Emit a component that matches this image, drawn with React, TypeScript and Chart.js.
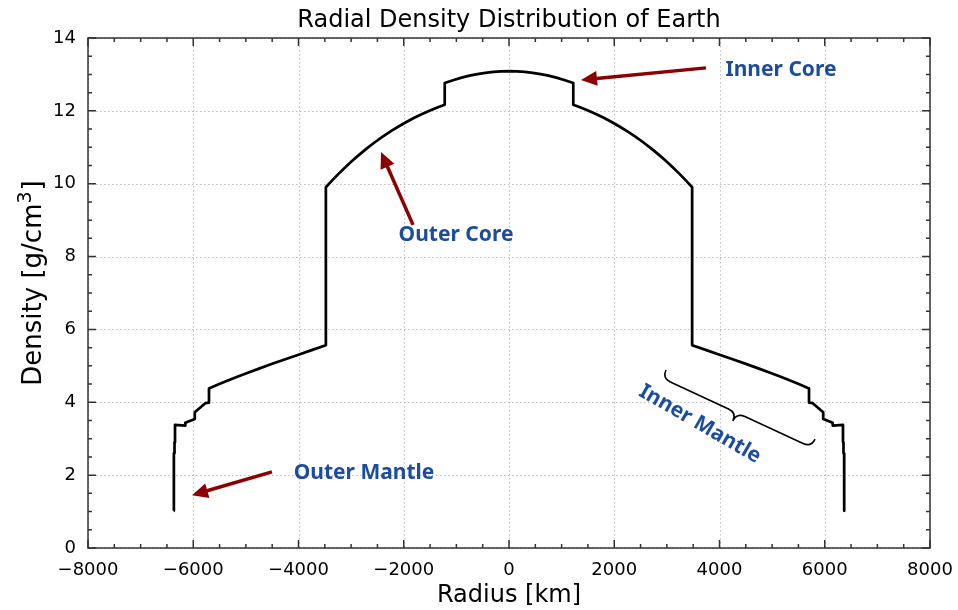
import React, { useEffect, useRef } from "react";
import { Chart, registerables } from "chart.js";

Chart.register(...registerables);

// PREM-like density profile, read for radius >= 0 (mirrored for the plot)
const radiusKm = [
  0, 150, 300, 450, 600, 750, 900, 1050, 1221.5, 1221.5,
  1350, 1500, 1650, 1800, 1950, 2100, 2250, 2400, 2550, 2700, 2850, 3000,
  3120, 3240, 3360, 3480, 3480,
  3750, 4000, 4250, 4500, 4750, 5000, 5200, 5400, 5550, 5701, 5701,
  5771, 5971, 5971, 6151, 6151, 6346.6, 6346.6, 6356, 6356, 6368, 6368, 6371,
];
const densityGcm3 = [
  13.089, 13.084, 13.069, 13.044, 13.01, 12.966, 12.912, 12.848, 12.764, 12.166,
  12.098, 12.01, 11.914, 11.809, 11.695, 11.571, 11.437, 11.293, 11.138, 10.971, 10.792, 10.602,
  10.44, 10.27, 10.091, 9.903, 5.567,
  5.432, 5.307, 5.179, 5.055, 4.924, 4.79, 4.679, 4.563, 4.474, 4.381, 3.992,
  3.976, 3.724, 3.543, 3.436, 3.36, 3.381, 2.9, 2.9, 2.6, 2.6, 1.02, 1.02,
];

const xMajorTicks = [-8000, -6000, -4000, -2000, 0, 2000, 4000, 6000, 8000];
const yMajorTicks = [0, 2, 4, 6, 8, 10, 12, 14];
const xMinorStep = 500;
const yMinorStep = 0.5;

const chartTitle = "Radial Density Distribution of Earth";
const xTitle = "Radius [km]";
const yTitleMain = "Density [g/cm";
const yTitleSup = "3";
const yTitleEnd = "]";

const labelTexts = ["Inner Core", "Outer Core", "Outer Mantle", "Inner Mantle"];
const labelX = [5169, -1007, -2755, 3629];
const labelY = [13.12, 8.59, 2.06, 3.4];
const labelAngleDeg = [0, 0, 0, 30];

const arrowFromX = [3743, -1824, -4504];
const arrowFromY = [13.18, 8.87, 2.09];
const arrowToX = [1368, -2432, -6024];
const arrowToY = [12.85, 10.87, 1.45];

const braceStart = [2983, 4.886];
const braceEnd = [5815, 2.99];

const FONT = "'DejaVu Sans', sans-serif";
const LABEL_FONT = "'Noto Sans', 'Open Sans', sans-serif";
const LABEL_BLUE = "#1c4c9f";
const ARROW_RED = "#8b0000";
const FRAME = "#333333";

function fmt(v: number): string {
  return v < 0 ? "\u2212" + Math.abs(v) : String(v);
}

const decorPlugin = {
  id: "decor",
  beforeDatasetsDraw(chart: any) {
    const { ctx, chartArea: a, scales } = chart;
    const x = scales.x;
    const y = scales.y;
    ctx.save();
    ctx.strokeStyle = "#bdbdbd";
    ctx.lineWidth = 1;
    ctx.setLineDash([1.5, 2.5]);
    for (const v of xMajorTicks) {
      const px = Math.round(x.getPixelForValue(v)) + 0.5;
      ctx.beginPath();
      ctx.moveTo(px, a.top);
      ctx.lineTo(px, a.bottom);
      ctx.stroke();
    }
    for (const v of yMajorTicks) {
      const py = Math.round(y.getPixelForValue(v)) + 0.5;
      ctx.beginPath();
      ctx.moveTo(a.left, py);
      ctx.lineTo(a.right, py);
      ctx.stroke();
    }
    ctx.restore();
  },
  afterDatasetsDraw(chart: any) {
    const { ctx, chartArea: a, scales } = chart;
    const x = scales.x;
    const y = scales.y;
    ctx.save();
    ctx.strokeStyle = FRAME;
    ctx.lineWidth = 1.5;
    ctx.setLineDash([]);
    ctx.strokeRect(a.left, a.top, a.right - a.left, a.bottom - a.top);
    const major = 8;
    const minor = 4;
    const xmin = xMajorTicks[0];
    const xmax = xMajorTicks[xMajorTicks.length - 1];
    for (let v = xmin; v <= xmax + 1e-6; v += xMinorStep) {
      const isMajor = xMajorTicks.includes(v);
      const len = isMajor ? major : minor;
      const px = x.getPixelForValue(v);
      ctx.beginPath();
      ctx.moveTo(px, a.bottom);
      ctx.lineTo(px, a.bottom - len);
      ctx.moveTo(px, a.top);
      ctx.lineTo(px, a.top + len);
      ctx.stroke();
    }
    const ymin = yMajorTicks[0];
    const ymax = yMajorTicks[yMajorTicks.length - 1];
    for (let v = ymin; v <= ymax + 1e-6; v += yMinorStep) {
      const isMajor = yMajorTicks.includes(v);
      const len = isMajor ? major : minor;
      const py = y.getPixelForValue(v);
      ctx.beginPath();
      ctx.moveTo(a.left, py);
      ctx.lineTo(a.left + len, py);
      ctx.moveTo(a.right, py);
      ctx.lineTo(a.right - len, py);
      ctx.stroke();
    }
    ctx.restore();
  },
  afterDraw(chart: any) {
    const { ctx, chartArea: a, scales } = chart;
    const x = scales.x;
    const y = scales.y;
    ctx.save();
    // title
    ctx.fillStyle = "#000";
    ctx.font = `24px ${FONT}`;
    ctx.textAlign = "center";
    ctx.textBaseline = "alphabetic";
    ctx.fillText(chartTitle, (a.left + a.right) / 2, 27);

    // y axis title with superscript
    {
      const mainFont = `26px ${FONT}`;
      const supFont = `19px ${FONT}`;
      ctx.font = mainFont;
      const w1 = ctx.measureText(yTitleMain).width;
      const w3 = ctx.measureText(yTitleEnd).width;
      ctx.font = supFont;
      const w2 = ctx.measureText(yTitleSup).width;
      const total = w1 + w2 + 1 + w3;
      ctx.save();
      ctx.translate(0, (a.top + a.bottom) / 2 - 10);
      ctx.rotate(-Math.PI / 2);
      ctx.textAlign = "left";
      const base = 41;
      let cx = -total / 2;
      ctx.font = mainFont;
      ctx.fillText(yTitleMain, cx, base);
      cx += w1;
      ctx.font = supFont;
      ctx.fillText(yTitleSup, cx, base - 10);
      cx += w2 + 1;
      ctx.font = mainFont;
      ctx.fillText(yTitleEnd, cx, base);
      ctx.restore();
    }

    // arrows
    for (let i = 0; i < arrowFromX.length; i++) {
      const x0 = x.getPixelForValue(arrowFromX[i]);
      const y0 = y.getPixelForValue(arrowFromY[i]);
      const x1 = x.getPixelForValue(arrowToX[i]);
      const y1 = y.getPixelForValue(arrowToY[i]);
      const ang = Math.atan2(y1 - y0, x1 - x0);
      const headLen = 16;
      const headHalf = 7.5;
      const bx = x1 - headLen * Math.cos(ang);
      const by = y1 - headLen * Math.sin(ang);
      ctx.strokeStyle = ARROW_RED;
      ctx.fillStyle = ARROW_RED;
      ctx.lineWidth = 3.5;
      ctx.lineCap = "butt";
      ctx.beginPath();
      ctx.moveTo(x0, y0);
      ctx.lineTo(bx + 3 * Math.cos(ang), by + 3 * Math.sin(ang));
      ctx.stroke();
      ctx.beginPath();
      ctx.moveTo(x1, y1);
      ctx.lineTo(bx - headHalf * Math.sin(ang), by + headHalf * Math.cos(ang));
      ctx.lineTo(bx + headHalf * Math.sin(ang), by - headHalf * Math.cos(ang));
      ctx.closePath();
      ctx.fill();
    }

    // brace
    {
      const x0 = x.getPixelForValue(braceStart[0]);
      const y0 = y.getPixelForValue(braceStart[1]);
      const x1 = x.getPixelForValue(braceEnd[0]);
      const y1 = y.getPixelForValue(braceEnd[1]);
      const ang = Math.atan2(y1 - y0, x1 - x0);
      const L = Math.hypot(x1 - x0, y1 - y0);
      const h = 9;
      const r = 9;
      ctx.save();
      ctx.translate(x0, y0);
      ctx.rotate(ang);
      ctx.strokeStyle = "#000";
      ctx.lineWidth = 1.6;
      ctx.beginPath();
      ctx.moveTo(0, 0);
      ctx.quadraticCurveTo(0, h, r, h);
      ctx.lineTo(L / 2 - r, h);
      ctx.quadraticCurveTo(L / 2, h, L / 2, 2 * h);
      ctx.quadraticCurveTo(L / 2, h, L / 2 + r, h);
      ctx.lineTo(L - r, h);
      ctx.quadraticCurveTo(L, h, L, 0);
      ctx.stroke();
      ctx.restore();
    }

    // labels
    ctx.fillStyle = LABEL_BLUE;
    ctx.font = `bold 21px ${LABEL_FONT}`;
    ctx.textAlign = "center";
    ctx.textBaseline = "middle";
    for (let i = 0; i < labelTexts.length; i++) {
      const px = x.getPixelForValue(labelX[i]);
      const py = y.getPixelForValue(labelY[i]);
      ctx.save();
      ctx.translate(px, py);
      ctx.rotate((labelAngleDeg[i] * Math.PI) / 180);
      ctx.fillText(labelTexts[i], 0, 0);
      ctx.restore();
    }
    ctx.restore();
  },
};

export default function App() {
  const ref = useRef<HTMLCanvasElement | null>(null);
  useEffect(() => {
    document.body.style.margin = "0";
    const canvas = ref.current;
    if (!canvas) return;
    const left = radiusKm
      .map((r, i) => ({ x: -r, y: densityGcm3[i] }))
      .filter((p) => p.x !== 0)
      .reverse();
    const right = radiusKm.map((r, i) => ({ x: r, y: densityGcm3[i] }));
    const points = [...left, ...right];
    const chart = new Chart(canvas, {
      type: "scatter",
      data: {
        datasets: [
          {
            data: points,
            showLine: true,
            borderColor: "#000",
            borderWidth: 2.7,
            borderJoinStyle: "round",
            pointRadius: 0,
            tension: 0,
            fill: false,
          },
        ],
      },
      options: {
        responsive: false,
        animation: false,
        devicePixelRatio: 1,
        layout: { padding: { top: 38, right: 28, left: 0, bottom: 0 } },
        plugins: {
          legend: { display: false },
          title: { display: false },
          tooltip: { enabled: false },
        },
        scales: {
          x: {
            type: "linear",
            min: -8000,
            max: 8000,
            grid: { display: false, drawTicks: false },
            border: { display: false },
            ticks: {
              stepSize: 2000,
              autoSkip: false,
              maxRotation: 0,
              padding: 12,
              color: "#000",
              font: { size: 18, family: FONT },
              callback: (v: any) => fmt(Number(v)),
            },
            title: {
              display: true,
              text: xTitle,
              color: "#000",
              font: { size: 24, family: FONT },
              padding: { top: 0, bottom: 0 },
            },
            afterFit: (s: any) => {
              s.height = 62;
              s.paddingLeft = 0;
              s.paddingRight = 0;
            },
          },
          y: {
            type: "linear",
            min: 0,
            max: 14,
            grid: { display: false, drawTicks: false },
            border: { display: false },
            ticks: {
              stepSize: 2,
              autoSkip: false,
              padding: 12,
              color: "#000",
              font: { size: 18, family: FONT },
              callback: (v: any) => fmt(Number(v)),
            },
            title: { display: false },
            afterFit: (s: any) => {
              s.width = 88;
              s.paddingTop = 0;
              s.paddingBottom = 0;
            },
          },
        },
      },
      plugins: [decorPlugin],
    } as any);
    return () => chart.destroy();
  }, []);
  return (
    <div style={{ width: 958, height: 610 }}>
      <canvas ref={ref} width={958} height={610} style={{ display: "block", width: 958, height: 610 }} />
    </div>
  );
}
